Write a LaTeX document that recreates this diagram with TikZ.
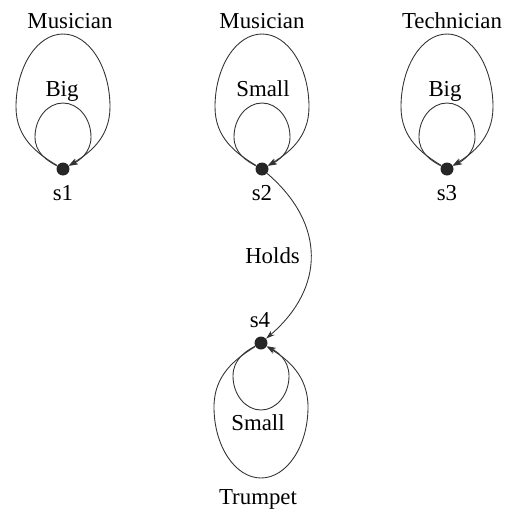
\documentclass[tikz,border=0pt]{standalone}
\usepackage{fontspec}
\setmainfont{Liberation Serif}
\usetikzlibrary{arrows.meta,calc}
\newcommand{\pxunit}{0.02cm}
% #1 state, #2 half width, #3 signed offset of the side points, #4 signed offset of the far end
\newcommand{\stateloop}[4]{
	\draw[trans] (#1) .. controls +({-0.55*(#2)},{0.25*(#3)}) and +(0,{-0.5*(#3)}) .. ($(#1)+({-(#2)},{#3})$)
		.. controls +(0,{0.55*((#4)-(#3))}) and +({-0.55*(#2)},0) .. ($(#1)+(0,{#4})$)
		.. controls +({0.55*(#2)},0) and +(0,{0.55*((#4)-(#3))}) .. ($(#1)+({#2},{#3})$)
		.. controls +(0,{-0.5*(#3)}) and +({0.55*(#2)},{0.25*(#3)}) .. (#1);
}
\tikzset{
	state/.style={circle, fill=black!85, inner sep=0pt, minimum size=0.26cm},
	lbl/.style={anchor=base, inner sep=0pt, font=\fontsize{13pt}{15pt}\selectfont},
	trans/.style={-{Stealth[length=5pt,width=3.2pt]}, line width=0.5pt, draw=black!80}
}

\begin{document}
\begin{tikzpicture}[x=\pxunit,y=-\pxunit]
	\useasboundingbox (0,0) rectangle (505,521);

	\node[state] (s1) at (63,169) {};
	\node[state] (s2) at (262,169) {};
	\node[state] (s3) at (447,169) {};
	\node[state] (s4) at (261,343) {};

	\node[lbl] (n1) at (63,200) {s1};
	\node[lbl] (n2) at (262,200) {s2};
	\node[lbl] (n3) at (447,200) {s3};
	\node[lbl] (n4) at (260,327) {s4};

	\node[lbl] (o1) at (70,28) {Musician};
	\node[lbl] (o2) at (262,28) {Musician};
	\node[lbl] (o3) at (452,28) {Technician};
	\node[lbl] (o4) at (258,504) {Trumpet};

	\node[lbl] (a1) at (62,96) {Big};
	\node[lbl] (a2) at (263,96) {Small};
	\node[lbl] (a3) at (445,96) {Big};
	\node[lbl] (a4) at (258,430) {Small};

	% loops above the three top states
	\stateloop{s1}{47}{-62}{-135}
	\stateloop{s1}{28}{-32}{-66}
	\stateloop{s2}{47}{-62}{-135}
	\stateloop{s2}{28}{-32}{-66}
	\stateloop{s3}{46}{-62}{-135}
	\stateloop{s3}{28}{-32}{-66}

	% loops below s4
	\stateloop{s4}{47}{64}{135}
	\stateloop{s4}{28}{33}{67}

	\draw[trans] (s2) .. controls +(64,55) and +(64,-55) .. node[lbl, anchor=east, inner sep=6pt] {Holds} (s4);

\end{tikzpicture}
\end{document}
